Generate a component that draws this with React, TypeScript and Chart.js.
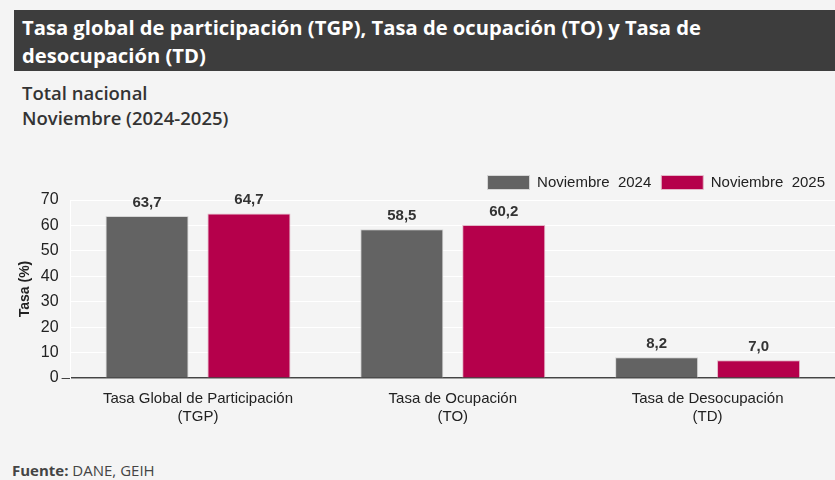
import React, { useEffect, useRef } from "react";
import { Chart, registerables } from "chart.js";

Chart.register(...registerables);

const categories: string[][] = [
  ["Tasa Global de Participación", "(TGP)"],
  ["Tasa de Ocupación", "(TO)"],
  ["Tasa de Desocupación", "(TD)"],
];
const series2024: number[] = [63.7, 58.5, 8.2];
const series2025: number[] = [64.7, 60.2, 7.0];
const seriesNames: string[] = ["Noviembre  2024", "Noviembre  2025"];
const yTicks: number[] = [0, 10, 20, 30, 40, 50, 60, 70];

const GRAY = "#636363";
const CRIMSON = "#b5004b";
const FONT = "'Liberation Sans', Arial, sans-serif";

const valueLabels = {
  id: "valueLabels",
  afterDatasetsDraw(chart: any) {
    const ctx = chart.ctx;
    ctx.save();
    ctx.font = `bold 15px ${FONT}`;
    ctx.fillStyle = "#333333";
    ctx.textAlign = "center";
    ctx.textBaseline = "bottom";
    chart.data.datasets.forEach((ds: any, di: number) => {
      const meta = chart.getDatasetMeta(di);
      meta.data.forEach((bar: any, i: number) => {
        const v = ds.data[i] as number;
        ctx.fillText(v.toFixed(1).replace(".", ","), bar.x, bar.y - 6);
      });
    });
    ctx.restore();
  },
};

export default function App() {
  const ref = useRef<HTMLCanvasElement | null>(null);

  useEffect(() => {
    document.body.style.margin = "0";
    if (!ref.current) return;
    const chart = new Chart(ref.current, {
      type: "bar",
      data: {
        labels: categories,
        datasets: [
          {
            label: seriesNames[0],
            data: series2024,
            backgroundColor: GRAY,
            borderColor: "#d6d6d6",
            borderWidth: 1,
            categoryPercentage: 0.8,
            barPercentage: 0.815,
          },
          {
            label: seriesNames[1],
            data: series2025,
            backgroundColor: CRIMSON,
            borderColor: "#e3b8c8",
            borderWidth: 1,
            categoryPercentage: 0.8,
            barPercentage: 0.815,
          },
        ],
      },
      options: {
        animation: false,
        responsive: false,
        maintainAspectRatio: false,
        layout: { padding: { left: 13, right: 0, top: 0, bottom: 0 } },
        plugins: {
          legend: {
            position: "top",
            align: "end",
            labels: {
              boxWidth: 42,
              boxHeight: 14,
              padding: 10,
              color: "#222222",
              font: { family: FONT, size: 15 },
            },
          },
          tooltip: { enabled: false },
        },
        scales: {
          x: {
            grid: { display: false },
            border: { display: true, color: "#444444", width: 1.5 },
            ticks: {
              color: "#222222",
              font: { family: FONT, size: 15, lineHeight: 1.2 },
              padding: 4,
              maxRotation: 0,
              autoSkip: false,
            },
          },
          y: {
            min: 0,
            max: 70,
            afterBuildTicks: (scale: any) => {
              scale.ticks = yTicks.map((v) => ({ value: v }));
            },
            border: { display: true, color: "#ffffff", width: 1 },
            grid: {
              color: "#ffffff",
              lineWidth: 1,
              tickLength: 9,
              tickColor: (c: any) => (c.tick && c.tick.value === 0 ? "#444444" : "rgba(0,0,0,0)"),
            },
            ticks: {
              color: "#222222",
              font: { family: FONT, size: 16 },
              padding: 3,
            },
            title: {
              display: true,
              text: "Tasa (%)",
              color: "#222222",
              font: { family: FONT, size: 14, weight: "bold" },
              padding: 4,
            },
          },
        },
      },
      plugins: [valueLabels],
    });
    return () => chart.destroy();
  }, []);

  return (
    <div
      style={{
        position: "absolute",
        left: 0,
        top: 0,
        width: 835,
        height: 480,
        background: "#f4f4f4",
        overflow: "hidden",
        fontFamily: "'Open Sans', sans-serif",
      }}
    >
      <div
        style={{
          position: "absolute",
          left: 14,
          top: 10,
          width: 821,
          height: 61,
          background: "#3d3d3d",
          color: "#ffffff",
          fontWeight: 700,
          fontSize: 20.2,
          lineHeight: "28px",
          paddingTop: 3,
          paddingLeft: 8,
          boxSizing: "border-box",
          whiteSpace: "nowrap",
        }}
      >
        Tasa global de participación (TGP), Tasa de ocupación (TO) y Tasa de
        <br />
        desocupación (TD)
      </div>
      <div
        style={{
          position: "absolute",
          left: 22,
          top: 80,
          color: "#333333",
          fontSize: 18.5,
          fontWeight: 600,
          lineHeight: "25px",
          whiteSpace: "nowrap",
        }}
      >
        Total nacional
        <br />
        Noviembre (2024-2025)
      </div>
      <canvas
        ref={ref}
        width={835}
        height={265}
        style={{ position: "absolute", left: 0, top: 165, width: 835, height: 265 }}
      />
      <div
        style={{
          position: "absolute",
          left: 12,
          top: 460,
          color: "#444444",
          fontSize: 15,
          lineHeight: "20px",
          whiteSpace: "nowrap",
        }}
      >
        <b>Fuente:</b> DANE, GEIH
      </div>
    </div>
  );
}
